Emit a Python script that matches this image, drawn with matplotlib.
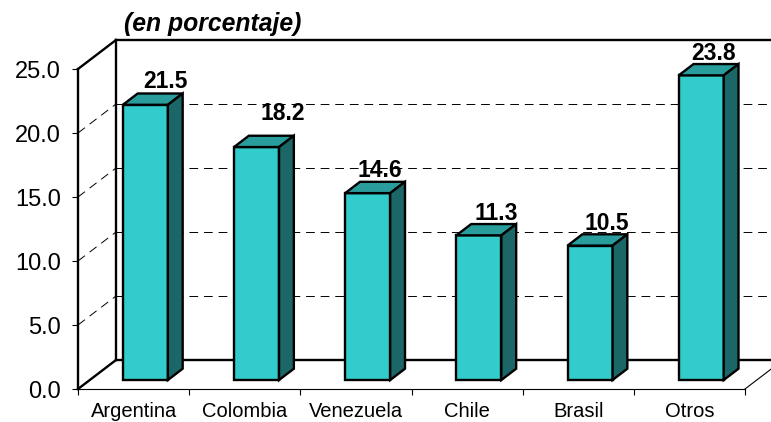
import matplotlib
matplotlib.use("Agg")
import matplotlib.pyplot as plt
from matplotlib.patches import Polygon

plt.rcParams['font.family'] = ['Liberation Sans', 'DejaVu Sans']

paises = ["Argentina", "Colombia", "Venezuela", "Chile", "Brasil", "Otros"]
valores = [21.5, 18.2, 14.6, 11.3, 10.5, 23.8]
y_ticks = [0, 5, 10, 15, 20, 25]
y_labels = ["0.0", "5.0", "10.0", "15.0", "20.0", "25.0"]
titulo = "(en porcentaje)"

# pixels per data unit, front wall goes 78..745 and 389..69
PX_X = 667 / 6
PX_Y = 320 / 25
# depth of the fake 3d box, in data units
DEPTH_X = 38 / PX_X
DEPTH_Y = 29 / PX_Y
BAR_W = 45 / PX_X
# bar sits this far into the box, and is this deep itself
BAR_IN = 0.31
BAR_D = 0.39

CARA = "#33CCCC"
TAPA = "#299C9C"
LADO = "#1B6666"
LW = 1.7

fig = plt.figure(figsize=(7.71, 4.22), dpi=100)
ax = fig.add_axes([78 / 771, (422 - 389) / 422, 667 / 771, 320 / 422])
ax.set_xlim(0, 6)
ax.set_ylim(0, 25)

# back wall and left wall
ax.plot([DEPTH_X, DEPTH_X], [DEPTH_Y, 25 + DEPTH_Y], color="black", lw=LW, clip_on=False, zorder=1)
ax.plot([DEPTH_X, 6 + DEPTH_X], [25 + DEPTH_Y, 25 + DEPTH_Y], color="black", lw=LW, clip_on=False, zorder=1)
ax.plot([DEPTH_X, 6 + DEPTH_X], [DEPTH_Y, DEPTH_Y], color="black", lw=LW, clip_on=False, zorder=1)
ax.plot([0, DEPTH_X], [25, 25 + DEPTH_Y], color="black", lw=LW, clip_on=False, zorder=1)
ax.plot([0, DEPTH_X], [0, DEPTH_Y], color="black", lw=LW, clip_on=False, zorder=1)
ax.plot([6, 6 + DEPTH_X], [0, DEPTH_Y], color="black", lw=0.8, clip_on=False, zorder=1)

# dashed grid on both walls
for t in y_ticks[1:-1]:
    ax.plot([0, DEPTH_X], [t, t + DEPTH_Y], color="black", lw=0.7, dashes=(9, 6), clip_on=False, zorder=1)
    ax.plot([DEPTH_X, 6 + DEPTH_X], [t + DEPTH_Y, t + DEPTH_Y], color="black", lw=0.7, dashes=(9, 6), clip_on=False, zorder=1)

# bars
x_izq = [i + (1 - BAR_W) / 2 + BAR_IN * DEPTH_X for i in range(len(valores))]
base = BAR_IN * DEPTH_Y
dx = BAR_D * DEPTH_X
dy = BAR_D * DEPTH_Y
ax.bar(x_izq, valores, width=BAR_W, bottom=base, align="edge", color=CARA,
       edgecolor="black", linewidth=LW, clip_on=False, zorder=3)
for x0, v in zip(x_izq, valores):
    x1 = x0 + BAR_W
    y1 = base + v
    ax.add_patch(Polygon([(x0, y1), (x1, y1), (x1 + dx, y1 + dy), (x0 + dx, y1 + dy)],
                         facecolor=TAPA, edgecolor="black", lw=LW, clip_on=False, zorder=3))
    ax.add_patch(Polygon([(x1, base), (x1 + dx, base + dy), (x1 + dx, y1 + dy), (x1, y1)],
                         facecolor=LADO, edgecolor="black", lw=LW, clip_on=False, zorder=3))

# value labels are not placed evenly in the original
nudge_x = [20, 26, 12, 17, 17, 12]
nudge_y = [12, 22, 11, 11, 11, 11]
for x0, v, nx, ny in zip(x_izq, valores, nudge_x, nudge_y):
    ax.annotate(f"{v:.1f}", (x0 + BAR_W / 2, base + v + dy), xytext=(nx, ny),
                textcoords="offset pixels", ha="center", va="center",
                fontsize=16.5, fontweight="bold", color="black", zorder=5, annotation_clip=False)

# axes
for s in ["top", "right"]:
    ax.spines[s].set_visible(False)
ax.patch.set_alpha(0)
ax.spines["left"].set_linewidth(LW)
ax.spines["bottom"].set_linewidth(0.8)
ax.set_yticks(y_ticks)
ax.set_yticklabels(y_labels, fontsize=17)
ax.set_xticks(range(7))
ax.set_xticklabels([])
ax.set_xticks([i + 0.5 for i in range(6)], minor=True)
ax.set_xticklabels(paises, minor=True, fontsize=14.5)
ax.tick_params(axis="x", which="minor", length=0, pad=9.5)
ax.tick_params(axis="x", which="major", length=4.5, width=0.8)
ax.tick_params(axis="y", length=4.5, width=0.8, pad=8)

fig.text(124 / 771, 1 - 24 / 422, titulo, fontsize=17.8, fontweight="bold", fontstyle="italic",
         ha="left", va="center")

fig.savefig("out.png", dpi=100)
plt.close()
